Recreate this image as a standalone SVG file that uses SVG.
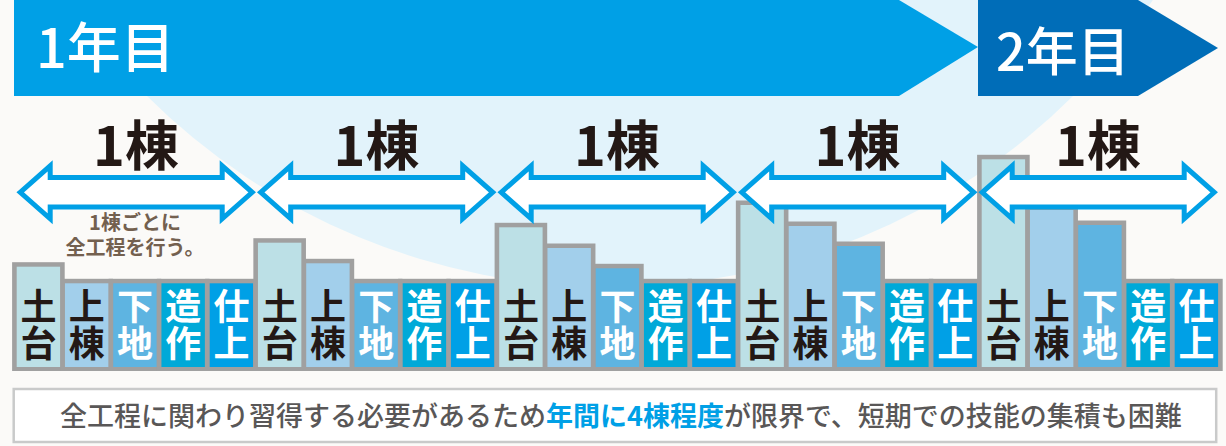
<svg xmlns="http://www.w3.org/2000/svg" width="1226" height="446" viewBox="0 0 1226 446">
<defs>
<style>
text{font-family:"Noto Sans CJK JP","Noto Sans CJK SC",sans-serif}
.yr{fill:#fff;font-size:54px;font-weight:500}
.one{fill:#231815;font-size:54px;font-weight:700;text-anchor:middle}
.note{fill:#73604f;font-size:20px;font-weight:700;text-anchor:middle}
.arr{fill:#fff;stroke:#00a0e6;stroke-width:5;stroke-linejoin:miter;stroke-miterlimit:10}
.g{fill:#a0a0a0}
.c1{fill:#bce0e6}.c2{fill:#a2cfeb}.c3{fill:#5eb4e1}.c4{fill:#00a9d8}.c5{fill:#00a0e6}
.tk{fill:#231815;font-size:36px;font-weight:700;text-anchor:middle}
.tw{fill:#fff;font-size:36px;font-weight:700;text-anchor:middle}
.box{fill:#fff;stroke:#c9caca;stroke-width:2.5}
.msg{fill:#595757;font-size:27px;font-weight:500}
.hl{fill:#00a0e6;font-weight:700}
</style>
</defs>
<rect width="1226" height="446" fill="#fbfaf8"/>
<circle cx="610" cy="-370" r="657" fill="#e2f3fb"/>
<g id="year1"><polygon points="14,0 899,0 978,47 899,96 14,96" fill="#00a0e6"/><text class="yr" x="36" y="68">1年目</text></g>
<g id="year2"><polygon points="978,0 1138,0 1218,48 1138,96 978,96" fill="#006db8"/><text class="yr" x="996" y="71" style="font-size:52px">2年目</text></g>
<g id="bars">
<g id="b1">
<rect class="g" x="12.1" y="262.2" width="52.6" height="108.8"/><rect class="g" x="60.4" y="278.8" width="52.6" height="92.2"/><rect class="g" x="108.6" y="278.8" width="52.6" height="92.2"/><rect class="g" x="156.9" y="278.8" width="52.6" height="92.2"/><rect class="g" x="205.1" y="278.8" width="52.6" height="92.2"/>
<rect class="c1" x="16.7" y="266.7" width="43.4" height="100.3"/><rect class="c2" x="64.95" y="283.3" width="43.4" height="83.7"/><rect class="c3" x="113.2" y="283.3" width="43.4" height="83.7"/><rect class="c4" x="161.45" y="283.3" width="43.4" height="83.7"/><rect class="c5" x="209.7" y="283.3" width="43.4" height="83.7"/>
<text class="tk" x="38.4" y="320">土</text><text class="tk" x="38.4" y="357">台</text><text class="tk" x="86.65" y="320">上</text><text class="tk" x="86.65" y="357">棟</text><text class="tw" x="134.9" y="320">下</text><text class="tw" x="134.9" y="357">地</text><text class="tw" x="183.15" y="320">造</text><text class="tw" x="183.15" y="357">作</text><text class="tw" x="231.4" y="320">仕</text><text class="tw" x="231.4" y="357">上</text>
</g>
<g id="b2">
<rect class="g" x="253.35" y="238.2" width="52.6" height="132.8"/><rect class="g" x="301.6" y="258.8" width="52.6" height="112.2"/><rect class="g" x="349.85" y="278.8" width="52.6" height="92.2"/><rect class="g" x="398.1" y="278.8" width="52.6" height="92.2"/><rect class="g" x="446.35" y="278.8" width="52.6" height="92.2"/>
<rect class="c1" x="257.95" y="242.7" width="43.4" height="124.3"/><rect class="c2" x="306.2" y="263.3" width="43.4" height="103.7"/><rect class="c3" x="354.45" y="283.3" width="43.4" height="83.7"/><rect class="c4" x="402.7" y="283.3" width="43.4" height="83.7"/><rect class="c5" x="450.95" y="283.3" width="43.4" height="83.7"/>
<text class="tk" x="279.65" y="320">土</text><text class="tk" x="279.65" y="357">台</text><text class="tk" x="327.9" y="320">上</text><text class="tk" x="327.9" y="357">棟</text><text class="tw" x="376.15" y="320">下</text><text class="tw" x="376.15" y="357">地</text><text class="tw" x="424.4" y="320">造</text><text class="tw" x="424.4" y="357">作</text><text class="tw" x="472.65" y="320">仕</text><text class="tw" x="472.65" y="357">上</text>
</g>
<g id="b3">
<rect class="g" x="494.6" y="222.8" width="52.6" height="148.2"/><rect class="g" x="542.85" y="243.5" width="52.6" height="127.5"/><rect class="g" x="591.1" y="263.8" width="52.6" height="107.2"/><rect class="g" x="639.35" y="278.8" width="52.6" height="92.2"/><rect class="g" x="687.6" y="278.8" width="52.6" height="92.2"/>
<rect class="c1" x="499.2" y="227.3" width="43.4" height="139.7"/><rect class="c2" x="547.45" y="248" width="43.4" height="119"/><rect class="c3" x="595.7" y="268.3" width="43.4" height="98.7"/><rect class="c4" x="643.95" y="283.3" width="43.4" height="83.7"/><rect class="c5" x="692.2" y="283.3" width="43.4" height="83.7"/>
<text class="tk" x="520.9" y="320">土</text><text class="tk" x="520.9" y="357">台</text><text class="tk" x="569.15" y="320">上</text><text class="tk" x="569.15" y="357">棟</text><text class="tw" x="617.4" y="320">下</text><text class="tw" x="617.4" y="357">地</text><text class="tw" x="665.65" y="320">造</text><text class="tw" x="665.65" y="357">作</text><text class="tw" x="713.9" y="320">仕</text><text class="tw" x="713.9" y="357">上</text>
</g>
<g id="b4">
<rect class="g" x="735.85" y="200.5" width="52.6" height="170.5"/><rect class="g" x="784.1" y="221.5" width="52.6" height="149.5"/><rect class="g" x="832.35" y="241.5" width="52.6" height="129.5"/><rect class="g" x="880.6" y="278.8" width="52.6" height="92.2"/><rect class="g" x="928.85" y="278.8" width="52.6" height="92.2"/>
<rect class="c1" x="740.45" y="205" width="43.4" height="162"/><rect class="c2" x="788.7" y="226" width="43.4" height="141"/><rect class="c3" x="836.95" y="246" width="43.4" height="121"/><rect class="c4" x="885.2" y="283.3" width="43.4" height="83.7"/><rect class="c5" x="933.45" y="283.3" width="43.4" height="83.7"/>
<text class="tk" x="762.15" y="320">土</text><text class="tk" x="762.15" y="357">台</text><text class="tk" x="810.4" y="320">上</text><text class="tk" x="810.4" y="357">棟</text><text class="tw" x="858.65" y="320">下</text><text class="tw" x="858.65" y="357">地</text><text class="tw" x="906.9" y="320">造</text><text class="tw" x="906.9" y="357">作</text><text class="tw" x="955.15" y="320">仕</text><text class="tw" x="955.15" y="357">上</text>
</g>
<g id="b5">
<rect class="g" x="977.1" y="154.8" width="52.6" height="216.2"/><rect class="g" x="1025.35" y="205.5" width="52.6" height="165.5"/><rect class="g" x="1073.6" y="220.5" width="52.6" height="150.5"/><rect class="g" x="1121.85" y="278.8" width="52.6" height="92.2"/><rect class="g" x="1170.1" y="278.8" width="52.6" height="92.2"/>
<rect class="c1" x="981.7" y="159.3" width="43.4" height="207.7"/><rect class="c2" x="1029.95" y="210" width="43.4" height="157"/><rect class="c3" x="1078.2" y="225" width="43.4" height="142"/><rect class="c4" x="1126.45" y="283.3" width="43.4" height="83.7"/><rect class="c5" x="1174.7" y="283.3" width="43.4" height="83.7"/>
<text class="tk" x="1003.4" y="320">土</text><text class="tk" x="1003.4" y="357">台</text><text class="tk" x="1051.65" y="320">上</text><text class="tk" x="1051.65" y="357">棟</text><text class="tw" x="1099.9" y="320">下</text><text class="tw" x="1099.9" y="357">地</text><text class="tw" x="1148.15" y="320">造</text><text class="tw" x="1148.15" y="357">作</text><text class="tw" x="1196.4" y="320">仕</text><text class="tw" x="1196.4" y="357">上</text>
</g>
</g>
<g id="connectors">
<polygon class="arr" points="20.2,192.3 50.2,165.8 50.2,177.6 222.2,177.6 222.2,165.8 252.2,192.3 222.2,218.8 222.2,207 50.2,207 50.2,218.8"/>
<polygon class="arr" points="260.7,192.3 290.7,165.8 290.7,177.6 462.7,177.6 462.7,165.8 492.7,192.3 462.7,218.8 462.7,207 290.7,207 290.7,218.8"/>
<polygon class="arr" points="501.2,192.3 531.2,165.8 531.2,177.6 703.2,177.6 703.2,165.8 733.2,192.3 703.2,218.8 703.2,207 531.2,207 531.2,218.8"/>
<polygon class="arr" points="741.7,192.3 771.7,165.8 771.7,177.6 943.7,177.6 943.7,165.8 973.7,192.3 943.7,218.8 943.7,207 771.7,207 771.7,218.8"/>
<polygon class="arr" points="982.2,192.3 1012.2,165.8 1012.2,177.6 1184.2,177.6 1184.2,165.8 1214.2,192.3 1184.2,218.8 1184.2,207 1012.2,207 1012.2,218.8"/>
</g>
<g id="labels">
<text class="one" x="136" y="166">1棟</text>
<text class="one" x="376.5" y="166">1棟</text>
<text class="one" x="617" y="166">1棟</text>
<text class="one" x="857.5" y="166">1棟</text>
<text class="one" x="1098" y="166">1棟</text>
</g>
<g id="note"><text class="note" x="135" y="230">1棟ごとに</text><text class="note" x="135" y="255">全工程を行う。</text></g>
<g id="summary">
<rect class="box" x="13.7" y="389" width="1202.5" height="53"/>
<text class="msg" x="60" y="426">全工程に関わり習得する必要があるため<tspan class="hl">年間に4棟程度</tspan>が限界で、短期での技能の集積も困難</text>
</g>
</svg>
